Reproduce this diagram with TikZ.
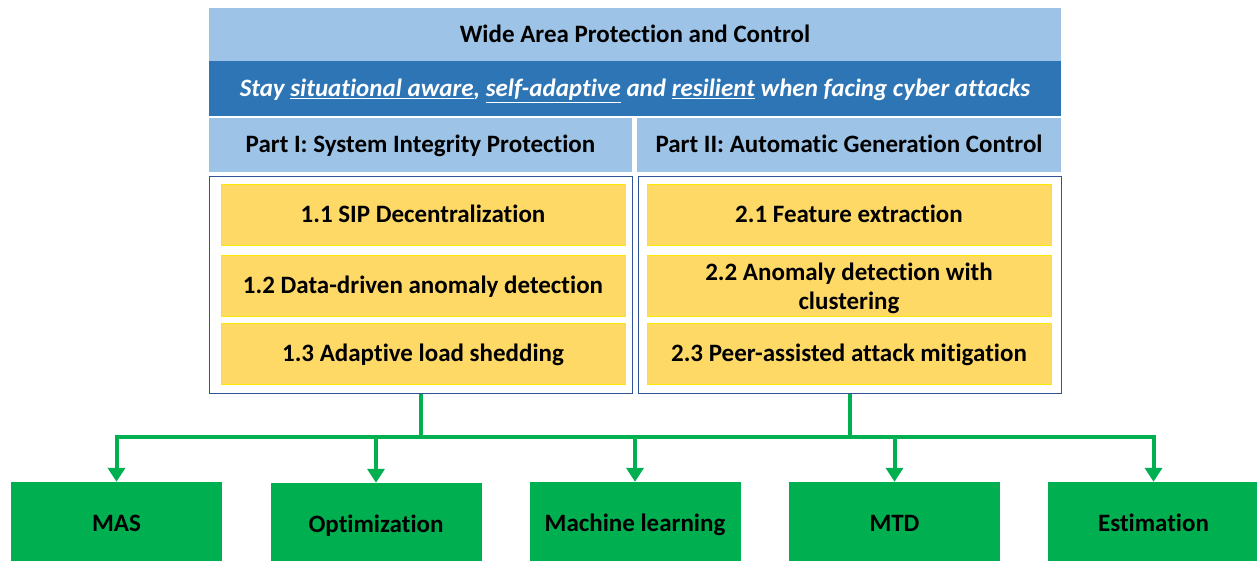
\documentclass[tikz,border=0pt]{standalone}
\usepackage{fontspec}
\setmainfont[Ligatures={NoCommon}]{Carlito}
\usetikzlibrary{arrows.meta}
\definecolor{lightblue}{HTML}{9DC3E6}
\definecolor{darkblue}{HTML}{2E75B6}
\definecolor{framecol}{HTML}{2F5597}
\definecolor{yellowbox}{HTML}{FFD966}
\definecolor{yellowedge}{HTML}{FFE800}
\definecolor{greenbox}{HTML}{00B050}
\tikzset{
  txt/.style={font=\fontsize{25}{29}\selectfont\bfseries, inner sep=0pt, align=center},
  oneline/.style={text height=18pt, text depth=2pt},
  header/.style={txt, oneline, fill=lightblue, minimum width=#1, minimum height=54pt},
  motto/.style={txt, oneline, fill=darkblue, text=white, minimum width=852pt, minimum height=55pt},
  frame/.style={draw=framecol, line width=1pt, fill=white, minimum width=423pt, minimum height=216pt},
  task/.style={txt, fill=yellowbox, draw=yellowedge, line width=0.6pt, minimum width=404pt, minimum height=61pt},
  tool/.style={txt, oneline, fill=greenbox, minimum width=211pt, minimum height=82pt},
  link/.style={draw=greenbox, line width=4pt},
  feed/.style={link, -{Triangle[width=17pt,length=14pt]}}
}
\begin{document}
\begin{tikzpicture}[x=1pt,y=-1pt]
\useasboundingbox (0,0) rectangle (1257,561);

% heading rows
\node[header=852pt, minimum height=53pt] (title) at (635,34.5) {Wide Area Protection and Control};
\node[motto] (goal) at (635,88.5) {\itshape Stay \underline{situational aware}, \underline{self-adaptive} and \underline{resilient} when facing cyber attacks};
\node[header=423pt] (partI) at (420.5,145) {Part I: System Integrity Protection};
\node[header=424pt] (partII) at (849,145) {Part II: Automatic Generation Control};

% frames holding the research tasks
\node[frame] (frameL) at (420.5,285) {};
\node[frame] (frameR) at (849.5,285) {};

\node[task, oneline] (t11) at (423,214.5) {1.1 SIP Decentralization};
\node[task, oneline] (t12) at (423,285.5) {1.2 Data-driven anomaly detection};
\node[task, oneline] (t13) at (423,353.5) {1.3 Adaptive load shedding};
\node[task, oneline] (t21) at (849,214.5) {2.1 Feature extraction};
\node[task] (t22) at (849,285.5) {\rule{0pt}{24pt}2.2 Anomaly detection with\\clustering};
\node[task, oneline] (t23) at (849,353.5) {2.3 Peer-assisted attack mitigation};

% methods
\node[tool] (mas) at (116.5,523) {MAS};
\node[tool] (opt) at (376,524) {Optimization};
\node[tool] (ml)  at (635,523) {Machine learning};
\node[tool] (mtd) at (894.5,523) {MTD};
\node[tool] (est) at (1153.5,523) {Estimation};

% connectors
\coordinate (bus) at (0,437);
\draw[link] (frameL.south) -- (frameL.south |- bus);
\draw[link] (frameR.south) -- (frameR.south |- bus);
\draw[link] ([xshift=-2pt]mas.north |- bus) -- ([xshift=2pt]est.north |- bus);
\foreach \m in {mas,opt,ml,mtd,est}
  \draw[feed] (\m.north |- bus) -- (\m.north);
\end{tikzpicture}
\end{document}
